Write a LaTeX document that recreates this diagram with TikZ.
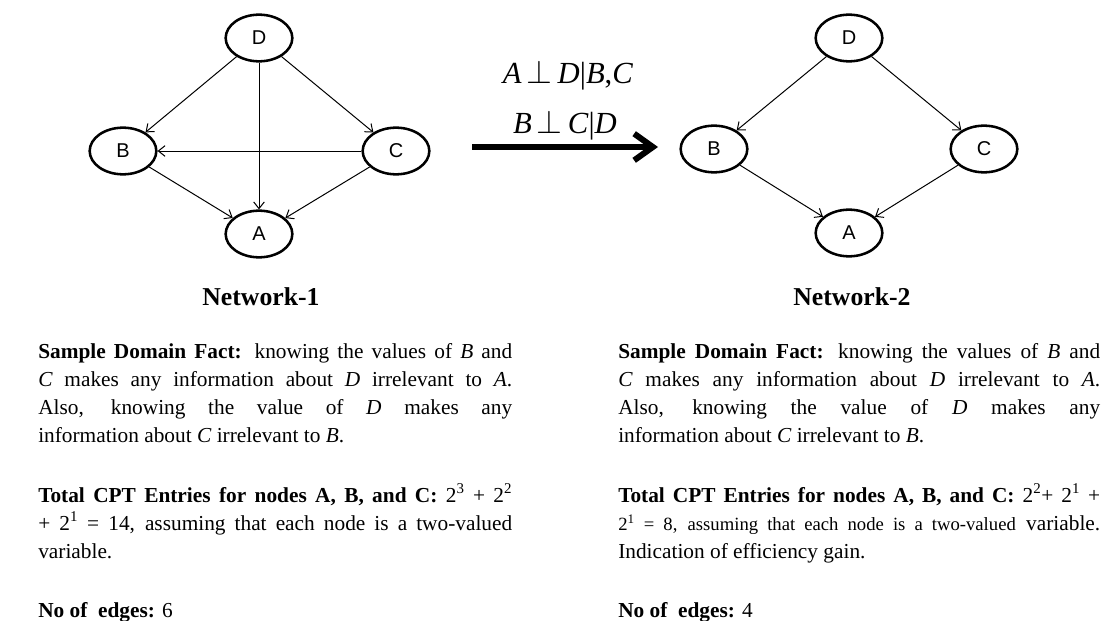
\documentclass[tikz,border=0pt]{standalone}
\usepackage{fontspec}
\setmainfont{Liberation Serif}
\newfontfamily\nodefont{Liberation Sans}
\usetikzlibrary{arrows.meta,shapes.geometric}

\begin{document}
\begin{tikzpicture}[x=0.75pt,y=-0.75pt,
  var/.style={draw, ellipse, line width=1.9pt, minimum width=50pt,
    minimum height=35pt, inner sep=0pt,
    font=\nodefont\fontsize{15}{18}\selectfont},
  edge/.style={line width=0.75pt, -{Straight Barb[length=5pt,width=8pt]}},
  bigarrow/.style={line width=4.5pt, -{Straight Barb[length=14pt,width=20pt]}},
  netlabel/.style={anchor=base, inner sep=0pt, font=\bfseries\fontsize{19.3}{23}\selectfont},
  cond/.style={anchor=base, inner sep=0pt, font=\fontsize{23}{27}\selectfont},
  body/.style={anchor=base west, inner sep=0pt, font=\fontsize{16}{21}\selectfont}
]
\useasboundingbox (0,0) rectangle (1104,621);

% Network-1: fully connected ordering D, C, B, A
\node[var] (d1) at (259,38) {D};
\node[var] (b1) at (123,151) {B};
\node[var] (c1) at (396,151) {C};
\node[var] (a1) at (259,234) {A};
\draw[edge] (d1) -- (b1);
\draw[edge] (d1) -- (c1);
\draw[edge] (d1) -- (a1);
\draw[edge] (c1) -- (b1);
\draw[edge] (b1) -- (a1);
\draw[edge] (c1) -- (a1);
\node[netlabel] (n1) at (261,305) {Network-1};

% independence statements and the transformation arrow
\node[cond] (ci1) at (568,83) {\textit{A}\,$\perp$\,\textit{D}|\textit{B},\textit{C}};
\node[cond] (ci2) at (565,133) {\textit{B}\,$\perp$\,\textit{C}|\textit{D}};
\coordinate (arrs) at (472,147);
\coordinate (arre) at (658,147);
\draw[bigarrow] (arrs) -- (arre);

% Network-2: after removing the redundant edges
\node[var] (d2) at (849,38) {D};
\node[var] (b2) at (714,149) {B};
\node[var] (c2) at (984,149) {C};
\node[var] (a2) at (849,233) {A};
\draw[edge] (d2) -- (b2);
\draw[edge] (d2) -- (c2);
\draw[edge] (b2) -- (a2);
\draw[edge] (c2) -- (a2);
\node[netlabel] (n2) at (852,305) {Network-2};

% left column text
\node[body] (fact1) at (38,358) {\parbox[t]{355.5pt}{%
\textbf{Sample Domain Fact:} knowing the values of \textit{B} and\linebreak
\textit{C} makes any information about \textit{D} irrelevant to \textit{A}.\linebreak
Also, knowing the value of \textit{D} makes any\linebreak
information about \textit{C} irrelevant to \textit{B}.}};
\node[body] (cpt1) at (38,502) {\parbox[t]{355.5pt}{%
\textbf{Total CPT Entries for nodes A, B, and C:} 2\textsuperscript{3} + 2\textsuperscript{2}\linebreak
+ 2\textsuperscript{1} = 14, assuming that each node is a two-valued\linebreak
variable.}};
\node[body] (edg1) at (38,617) {\textbf{No of\ \ edges:} 6};

% right column text
\node[body] (fact2) at (618,358) {\parbox[t]{361.5pt}{%
\textbf{Sample Domain Fact:} knowing the values of \textit{B} and\linebreak
\textit{C} makes any information about \textit{D} irrelevant to \textit{A}.\linebreak
Also, knowing the value of \textit{D} makes any\linebreak
information about \textit{C} irrelevant to \textit{B}.}};
\node[body] (cpt2) at (618,502) {\parbox[t]{361.5pt}{%
\textbf{Total CPT Entries for nodes A, B, and C:} 2\textsuperscript{2}+ 2\textsuperscript{1} +\linebreak
{\fontsize{14}{21}\selectfont 2\textsuperscript{1} = 8, assuming that each node is a two-valued} variable.\linebreak
Indication of efficiency gain.}};
\node[body] (edg2) at (618,617) {\textbf{No of\ \ edges:} 4};
\end{tikzpicture}
\end{document}
